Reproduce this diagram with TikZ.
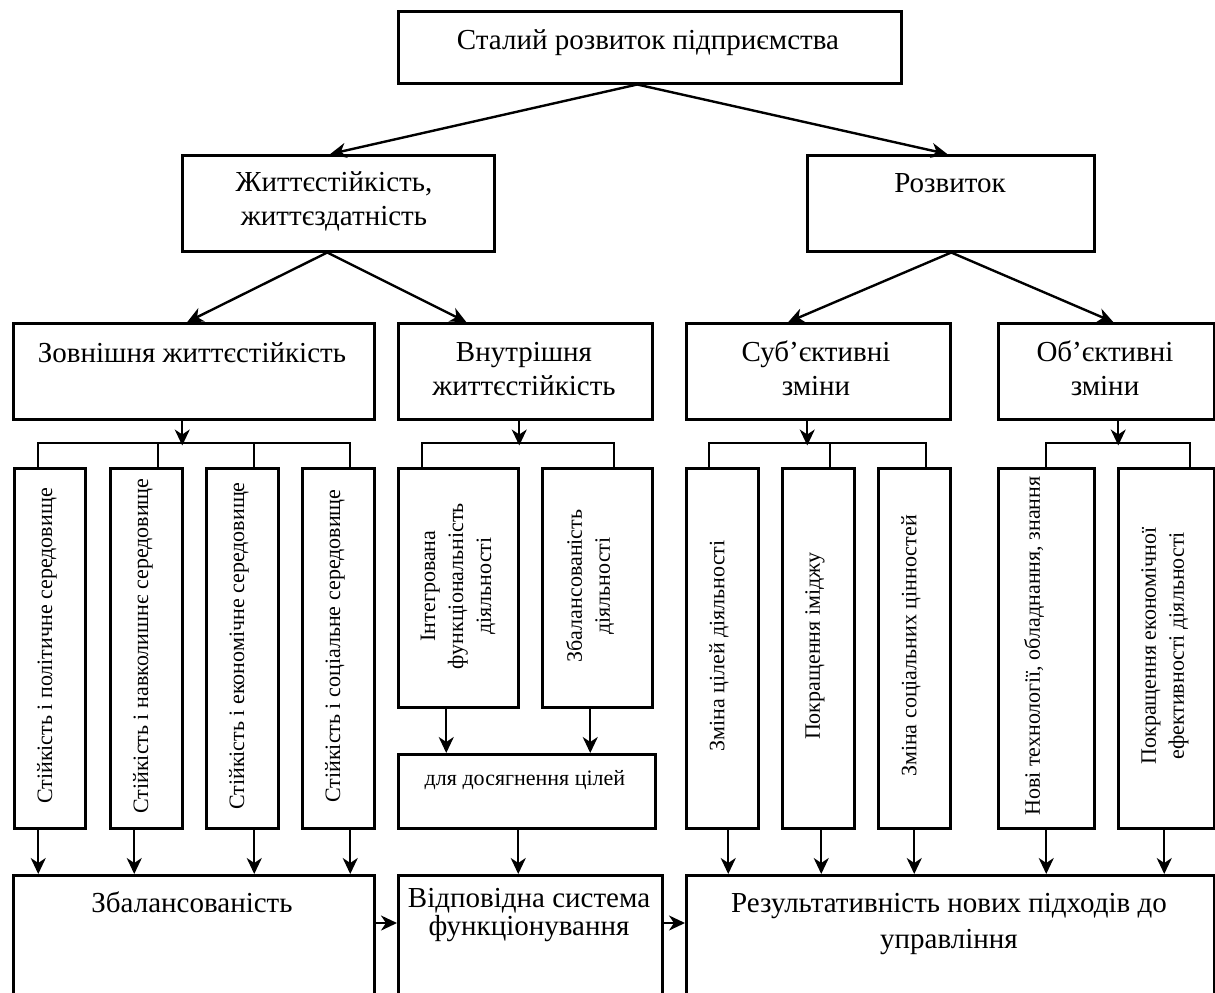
\documentclass[tikz,border=0pt]{standalone}
\usepackage{fontspec}
\setmainfont{Liberation Serif}
\usetikzlibrary{arrows.meta}
\begin{document}
\begin{tikzpicture}[x=0.5pt,y=-0.5pt,
  box/.style={draw, line width=1.25pt, inner sep=0pt, anchor=north west},
  arr/.style={line width=1.2pt, -{Stealth[length=8pt,width=7.5pt,inset=2.5pt]}},
  ln/.style={line width=1.2pt},
  big/.style={font=\fontsize{14.5}{16.5}\selectfont, inner sep=0pt, anchor=base, align=center},
  sm/.style={font=\fontsize{11}{14}\selectfont, inner sep=0pt, align=center},
  vt/.style={sm, rotate=90, anchor=center},
]
\useasboundingbox (0,0) rectangle (1215,992);
\clip (0,0) rectangle (1215,992);

% boxes
\node[box, minimum width=251.5pt, minimum height=36pt] (top) at (397,10) {};
\node[box, minimum width=156pt, minimum height=48pt] (zh) at (181,154) {};
\node[box, minimum width=143.5pt, minimum height=48pt] (rozv) at (806,154) {};
\node[box, minimum width=180.5pt, minimum height=48pt] (zov) at (12,322) {};
\node[box, minimum width=127pt, minimum height=48pt] (vnut) at (397,322) {};
\node[box, minimum width=132pt, minimum height=48pt] (sub) at (685,322) {};
\node[box, minimum width=108pt, minimum height=48pt] (ob) at (997,322) {};

\node[box, minimum width=35.5pt, minimum height=180pt] (a1) at (13,467) {};
\node[box, minimum width=36pt, minimum height=180pt] (a2) at (109,467) {};
\node[box, minimum width=36pt, minimum height=180pt] (a3) at (205,467) {};
\node[box, minimum width=36pt, minimum height=180pt] (a4) at (301,467) {};

\node[box, minimum width=60pt, minimum height=119.5pt] (b1) at (397,467) {};
\node[box, minimum width=55pt, minimum height=119.5pt] (b2) at (541,467) {};
\node[box, minimum width=128.5pt, minimum height=37pt] (b3) at (397,753) {};

\node[box, minimum width=36pt, minimum height=180pt] (c1) at (685,467) {};
\node[box, minimum width=36pt, minimum height=180pt] (c2) at (781,467) {};
\node[box, minimum width=36pt, minimum height=180pt] (c3) at (877,467) {};
\node[box, minimum width=48pt, minimum height=180pt] (d1) at (997,467) {};
\node[box, minimum width=48pt, minimum height=180pt] (d2) at (1117,467) {};

\node[box, minimum width=180.5pt, minimum height=68pt] (bal) at (12,874) {};
\node[box, minimum width=132pt, minimum height=68pt] (vid) at (397,874) {};
\node[box, minimum width=264pt, minimum height=68pt] (res) at (685,874) {};

% texts (multi-line nodes: base = last line)
\node[big] (ttop) at (648,49) {Сталий розвиток підприємства};
\node[big] (tzh) at (334,225) {Життєстійкість,\\[0.5pt]життєздатність};
\node[big] (trozv) at (950,192) {Розвиток};
\node[big] (tzov) at (192,362) {Зовнішня життєстійкість};
\node[big] (tvnut) at (524,395) {Внутрішня\\[0.5pt]життєстійкість};
\node[big] (tsub) at (816,395) {Суб’єктивні\\[0.5pt]зміни};
\node[big] (tob) at (1105,395) {Об’єктивні\\[0.5pt]зміни};

\node[vt] (ta1) at (47,646) {Стійкість і політичне середовище};
\node[vt] (ta2) at (143,646) {Стійкість і навколишнє середовище};
\node[vt] (ta3) at (239,646) {Стійкість і економічне середовище};
\node[vt] (ta4) at (335,646) {Стійкість і соціальне середовище};

\node[vt] (tb1) at (458,586) {Інтегрована\\функціональність\\діяльності};
\node[vt] (tb2) at (590,586) {Збалансованість\\діяльності};
\node[sm, anchor=base] (tb3) at (525,785) {для досягнення цілей};

\node[vt] (tc1) at (719,646) {Зміна цілей діяльності};
\node[vt] (tc2) at (815,646) {Покращення іміджу};
\node[vt] (tc3) at (911,646) {Зміна соціальних цінностей};
\node[vt] (td1) at (1034,646) {Нові технології, обладнання, знання};
\node[vt] (td2) at (1165,646) {Покращення економічної\\ефективності діяльності};

\node[big] (tbal) at (192,912) {Збалансованість};
\node[big, font=\fontsize{14.5}{13.75}\selectfont] (tvid) at (529,935) {Відповідна система\\функціонування};
\node[big, font=\fontsize{14.5}{18}\selectfont] (tres) at (949,948) {Результативність нових підходів до\\управління};

% connectors, top levels
\draw[arr] ([xshift=-6.25pt]top.south) -- ([xshift=-4pt]zh.north);
\draw[arr] ([xshift=-6.25pt]top.south) -- ([xshift=-1.75pt]rozv.north);
\draw[arr] ([xshift=-5.5pt]zh.south) -- ([xshift=-3.25pt]zov.north);
\draw[arr] ([xshift=-5.5pt]zh.south) -- ([xshift=-29.5pt]vnut.north);
\draw[arr] ([xshift=0.25pt]rozv.south) -- ([xshift=-15pt]sub.north);
\draw[arr] ([xshift=0.25pt]rozv.south) -- ([xshift=3.5pt]ob.north);

% left group
\draw[arr] ([xshift=-5.75pt]zov.south) -- ++(0,25);
\draw[ln] ([xshift=-5.75pt]a1.north) -- ++(0,-24) -| ([xshift=6pt]a4.north);
\draw[ln] ([xshift=6pt]a2.north) -- ++(0,-24);
\draw[ln] ([xshift=6pt]a3.north) -- ++(0,-24);
\draw[arr] ([xshift=-5.75pt]a1.south) -- ([xshift=-5.75pt]a1.south |- bal.north);
\draw[arr] ([xshift=-6pt]a2.south) -- ([xshift=-6pt]a2.south |- bal.north);
\draw[arr] ([xshift=6pt]a3.south) -- ([xshift=6pt]a3.south |- bal.north);
\draw[arr] ([xshift=6pt]a4.south) -- ([xshift=6pt]a4.south |- bal.north);

% middle group
\draw[arr] ([xshift=-3pt]vnut.south) -- ++(0,25);
\draw[ln] ([xshift=-18pt]b1.north) -- ++(0,-24) -| ([xshift=8.5pt]b2.north);
\draw[arr] ([xshift=-6pt]b1.south) -- ([xshift=-6pt]b1.south |- b3.north);
\draw[arr] ([xshift=-3.5pt]b2.south) -- ([xshift=-3.5pt]b2.south |- b3.north);
\draw[arr] ([xshift=-4.25pt]b3.south) -- ([xshift=-4.25pt]b3.south |- vid.north);

% right groups
\draw[arr] ([xshift=-5.5pt]sub.south) -- ++(0,25);
\draw[ln] ([xshift=-6.5pt]c1.north) -- ++(0,-24) -| ([xshift=6pt]c3.north);
\draw[ln] ([xshift=6pt]c2.north) -- ++(0,-24);
\draw[arr] ([xshift=6pt]ob.south) -- ++(0,25);
\draw[ln] (d1.north) -- ++(0,-24) -| ([xshift=12pt]d2.north);
\draw[arr] ([xshift=3pt]c1.south) -- ([xshift=3pt]c1.south |- res.north);
\draw[arr] ([xshift=1.5pt]c2.south) -- ([xshift=1.5pt]c2.south |- res.north);
\draw[arr] (c3.south) -- (c3.south |- res.north);
\draw[arr] (d1.south) -- (d1.south |- res.north);
\draw[arr] ([xshift=-1pt]d2.south) -- ([xshift=-1pt]d2.south |- res.north);

% bottom horizontal
\draw[arr] ([yshift=-24.5pt]bal.north east) -- ([yshift=-24.5pt]vid.north west);
\draw[arr] ([yshift=-24.5pt]vid.north east) -- ([yshift=-24.5pt]res.north west);
\end{tikzpicture}
\end{document}
